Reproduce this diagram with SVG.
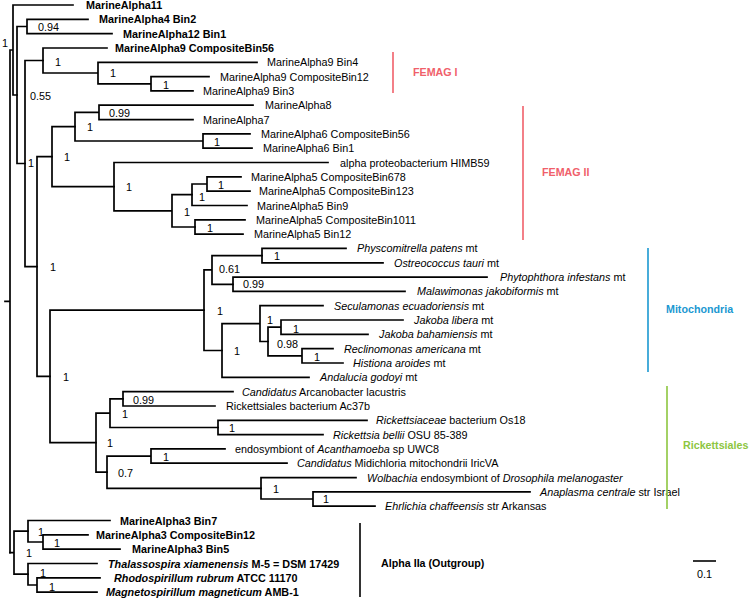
<svg xmlns="http://www.w3.org/2000/svg" width="750" height="601" viewBox="0 0 750 601">
<style>
text{font-family:"Liberation Sans",Arial,sans-serif;font-size:10.8px;fill:#000}
.bd{font-weight:bold}
.i{font-style:italic}
.br{fill:none;stroke:#000;stroke-width:1.7;stroke-linecap:square}
.cl{font-weight:bold;font-size:10.7px}
</style>
<rect width="750" height="601" fill="#fff"/>
<g id="branches" class="br">
<path d="M5,301.4H10M10,50V552.7M10,50H13M13,5V95M13,5H73M13,95H17"/>
<path d="M17,26.5V163.5M17,26.5H27M17,163.5H25M27,19.3V33.6M27,19.3H88M27,33.6H112"/>
<path d="M25,60.5V266.6M25,60.5H43M25,266.6H37"/>
<path d="M43,48V73M43,48H107M43,73H98M98,62.3V83.8M98,62.3H257M98,83.8H151M151,76.6V90.9M151,76.6H209M151,90.9H193"/>
<path d="M37,156.7V376.4M37,156.7H52M37,376.4H50"/>
<path d="M52,126.7V186.7M52,126.7H75M52,186.7H114"/>
<path d="M75,112.4V141M75,112.4H99M75,141H203M99,105.2V119.6M99,105.2H253M99,119.6H193M203,133.9V148.2M203,133.9H250M203,148.2H252"/>
<path d="M114,162.5V210.9M114,162.5H328M114,210.9H172M172,194.7V227M172,194.7H192M172,227H195"/>
<path d="M192,184V205.5M192,184H207M192,205.5H247M207,176.8V191.2M207,176.8H241M207,191.2H250M195,219.8V234.1M195,219.8H245M195,234.1H243"/>
<path d="M50,310.2V442.7M50,310.2H204M50,442.7H96"/>
<path d="M204,269.9V350.5M204,269.9H212M204,350.5H222M212,255.6V284.3M212,255.6H262M212,284.3H233"/>
<path d="M262,248.4V262.8M262,248.4H346M262,262.8H383M233,277.1V291.4M233,277.1H487M233,291.4H405"/>
<path d="M222,323.6V377.3M222,323.6H260M222,377.3H309M260,305.7V341.5M260,305.7H323M260,341.5H268"/>
<path d="M268,327.2V355.9M268,327.2H281M268,355.9H302M281,320V334.4M281,320H403M281,334.4H368M302,348.7V363M302,348.7H333M302,363H343"/>
<path d="M96,413.1V472.2M96,413.1H110M96,472.2H107M110,398.8V427.5M110,398.8H123M110,427.5H218"/>
<path d="M123,391.6V406M123,391.6H233M123,406H215M218,420.3V434.6M218,420.3H367M218,434.6H323"/>
<path d="M107,456.1V488.3M107,456.1H151M107,488.3H261M151,448.9V463.2M151,448.9H225M151,463.2H287"/>
<path d="M261,477.6V499M261,477.6H356M261,499H313M313,491.9V506.2M313,491.9H530M313,506.2H375"/>
<path d="M10,552.7H14M14,531.2V574.2M14,531.2H28M14,574.2H28"/>
<path d="M28,520.5V542M28,520.5H110M28,542H43M43,534.8V549.2M43,534.8H88M43,549.2H120"/>
<path d="M28,563.5V585M28,563.5H97M28,585H37M37,577.8V592.1M37,577.8H100M37,592.1H97"/>
</g>
<g id="support">
<text x="2" y="47">1</text>
<text x="38" y="31">0.94</text>
<text x="30" y="100">0.55</text>
<text x="28" y="167">1</text>
<text x="55" y="66">1</text>
<text x="110" y="77">1</text>
<text x="163" y="89">1</text>
<text x="109" y="117">0.99</text>
<text x="87" y="131">1</text>
<text x="214" y="146">1</text>
<text x="64" y="161">1</text>
<text x="126" y="191">1</text>
<text x="218" y="189">1</text>
<text x="199" y="201">1</text>
<text x="184" y="216">1</text>
<text x="207" y="232">1</text>
<text x="50" y="271">1</text>
<text x="63" y="381">1</text>
<text x="217" y="315">1</text>
<text x="219" y="273">0.61</text>
<text x="274" y="260">1</text>
<text x="243" y="288">0.99</text>
<text x="267" y="324">1</text>
<text x="293" y="333">1</text>
<text x="277" y="348">0.98</text>
<text x="314" y="361">1</text>
<text x="234" y="355">1</text>
<text x="107" y="447">1</text>
<text x="133" y="404">0.99</text>
<text x="122" y="418">1</text>
<text x="229" y="432">1</text>
<text x="163" y="461">1</text>
<text x="118" y="477">0.7</text>
<text x="273" y="493">1</text>
<text x="323" y="503">1</text>
<text x="38" y="536">1</text>
<text x="54" y="547">1</text>
<text x="26" y="557">1</text>
<text x="40" y="577">1</text>
<text x="49" y="591">1</text>
</g>
<g id="leaf-01"><text class="bd" x="86" y="9">MarineAlpha11</text></g>
<g id="leaf-02"><text class="bd" x="99" y="23.3">MarineAlpha4 Bin2</text></g>
<g id="leaf-03"><text class="bd" x="123" y="37.6">MarineAlpha12 Bin1</text></g>
<g id="leaf-04"><text class="bd" x="115" y="52">MarineAlpha9 CompositeBin56</text></g>
<g id="leaf-05"><text x="267" y="66.3">MarineAlpha9 Bin4</text></g>
<g id="leaf-06"><text x="220" y="80.6">MarineAlpha9 CompositeBin12</text></g>
<g id="leaf-07"><text x="203" y="94.9">MarineAlpha9 Bin3</text></g>
<g id="leaf-08"><text x="265" y="109.2">MarineAlpha8</text></g>
<g id="leaf-09"><text x="203" y="123.6">MarineAlpha7</text></g>
<g id="leaf-10"><text x="261" y="137.9">MarineAlpha6 CompositeBin56</text></g>
<g id="leaf-11"><text x="263" y="152.2">MarineAlpha6 Bin1</text></g>
<g id="leaf-12"><text x="340" y="166.5">alpha proteobacterium HIMB59</text></g>
<g id="leaf-13"><text x="251" y="180.8">MarineAlpha5 CompositeBin678</text></g>
<g id="leaf-14"><text x="259" y="195.2">MarineAlpha5 CompositeBin123</text></g>
<g id="leaf-15"><text x="257" y="209.5">MarineAlpha5 Bin9</text></g>
<g id="leaf-16"><text x="256" y="223.8">MarineAlpha5 CompositeBin1011</text></g>
<g id="leaf-17"><text x="254" y="238.1">MarineAlpha5 Bin12</text></g>
<g id="leaf-18"><text x="357" y="252.4"><tspan class="i">Physcomitrella patens</tspan> mt</text></g>
<g id="leaf-19"><text x="394" y="266.8"><tspan class="i">Ostreococcus tauri</tspan> mt</text></g>
<g id="leaf-20"><text x="500" y="281.1"><tspan class="i">Phytophthora infestans</tspan> mt</text></g>
<g id="leaf-21"><text x="417" y="295.4"><tspan class="i">Malawimonas jakobiformis</tspan> mt</text></g>
<g id="leaf-22"><text x="334" y="309.7"><tspan class="i">Seculamonas ecuadoriensis</tspan> mt</text></g>
<g id="leaf-23"><text x="414" y="324"><tspan class="i">Jakoba libera</tspan> mt</text></g>
<g id="leaf-24"><text x="379" y="338.4"><tspan class="i">Jakoba bahamiensis</tspan> mt</text></g>
<g id="leaf-25"><text x="344" y="352.7"><tspan class="i">Reclinomonas americana</tspan> mt</text></g>
<g id="leaf-26"><text x="353" y="367"><tspan class="i">Histiona aroides</tspan> mt</text></g>
<g id="leaf-27"><text x="320" y="381.3"><tspan class="i">Andalucia godoyi</tspan> mt</text></g>
<g id="leaf-28"><text x="242" y="395.6"><tspan class="i">Candidatus</tspan> Arcanobacter lacustris</text></g>
<g id="leaf-29"><text x="226" y="410">Rickettsiales bacterium Ac37b</text></g>
<g id="leaf-30"><text x="376" y="424.3"><tspan class="i">Rickettsiaceae</tspan> bacterium Os18</text></g>
<g id="leaf-31"><text x="333" y="438.6"><tspan class="i">Rickettsia bellii</tspan> OSU 85-389</text></g>
<g id="leaf-32"><text x="235" y="452.9">endosymbiont of <tspan class="i">Acanthamoeba</tspan> sp UWC8</text></g>
<g id="leaf-33"><text x="297" y="467.2"><tspan class="i">Candidatus</tspan> Midichloria mitochondrii IricVA</text></g>
<g id="leaf-34"><text x="367" y="481.6"><tspan class="i">Wolbachia</tspan> endosymbiont of <tspan class="i">Drosophila melanogaster</tspan></text></g>
<g id="leaf-35"><text x="540" y="495.9"><tspan class="i">Anaplasma centrale</tspan> str Israel</text></g>
<g id="leaf-36"><text x="385" y="510.2"><tspan class="i">Ehrlichia chaffeensis</tspan> str Arkansas</text></g>
<g id="leaf-37"><text class="bd" x="120" y="524.5">MarineAlpha3 Bin7</text></g>
<g id="leaf-38"><text class="bd" x="96" y="538.8">MarineAlpha3 CompositeBin12</text></g>
<g id="leaf-39"><text class="bd" x="132" y="553.2">MarineAlpha3 Bin5</text></g>
<g id="leaf-40"><text class="bd" x="108" y="567.5"><tspan class="i">Thalassospira xiamenensis</tspan> M-5 = DSM 17429</text></g>
<g id="leaf-41"><text class="bd" x="114" y="581.8"><tspan class="i">Rhodospirillum rubrum</tspan> ATCC 11170</text></g>
<g id="leaf-42"><text class="bd" x="106" y="596.1"><tspan class="i">Magnetospirillum magneticum</tspan> AMB-1</text></g>
<g id="clade-femag1"><line x1="393" y1="52" x2="393" y2="93" stroke="#f0606a" stroke-width="1.6"/><text class="cl" x="413" y="76" style="fill:#f0606a">FEMAG I</text></g>
<g id="clade-femag2"><line x1="523" y1="106" x2="523" y2="240" stroke="#f0606a" stroke-width="1.6"/><text class="cl" x="542" y="176" style="fill:#f0606a">FEMAG II</text></g>
<g id="clade-mito"><line x1="648" y1="248" x2="648" y2="372" stroke="#1b98d1" stroke-width="1.6"/><text class="cl" x="666" y="313" style="fill:#1b98d1">Mitochondria</text></g>
<g id="clade-rick"><line x1="667" y1="386" x2="667" y2="509" stroke="#8dc63f" stroke-width="1.6"/><text class="cl" x="683" y="449" style="fill:#8dc63f">Rickettsiales</text></g>
<g id="clade-outgroup"><line x1="360" y1="523" x2="360" y2="597" stroke="#000" stroke-width="1.6"/><text class="cl" x="381" y="567">Alpha IIa (Outgroup)</text></g>
<g id="scale"><line x1="693" y1="561" x2="716" y2="561" stroke="#000" stroke-width="1.6"/><text x="704.5" y="578" text-anchor="middle">0.1</text></g>
</svg>
